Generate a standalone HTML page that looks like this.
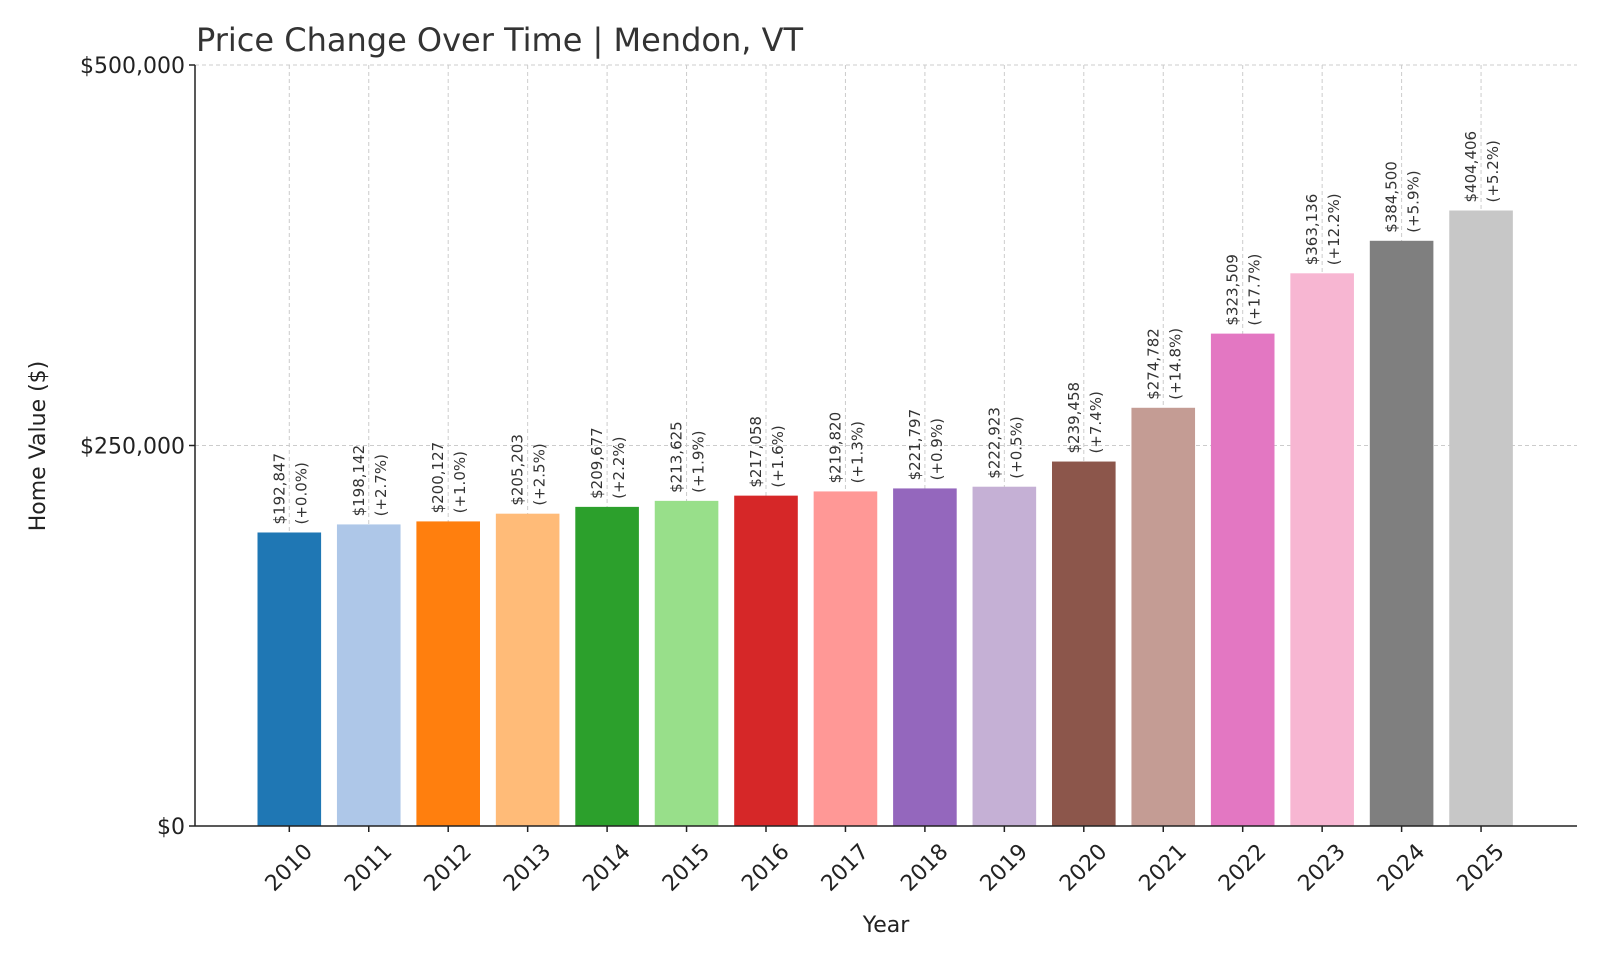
<!DOCTYPE html>
<html><head><meta charset="utf-8"><style>
body{margin:0;background:#fff;}
svg{display:block;font-family:"DejaVu Sans","Liberation Sans",sans-serif;}
</style></head><body>
<svg id="chart" width="1600" height="960" viewBox="0 0 1600 960">
<rect width="1600" height="960" fill="#fff"/>
<text x="196" y="51" font-size="32" fill="#333">Price Change Over Time | Mendon, VT</text>
<g id="grid"></g><g id="bars"></g><g id="labels"></g><g id="axes"></g>
<text x="886" y="932" font-size="22" text-anchor="middle" fill="#222">Year</text>
<text transform="translate(45,446) rotate(-90)" font-size="22" text-anchor="middle" fill="#222">Home Value ($)</text>
</svg>
<script>
const years=["2010","2011","2012","2013","2014","2015","2016","2017","2018","2019","2020","2021","2022","2023","2024","2025"];
const values=[192847,198142,200127,205203,209677,213625,217058,219820,221797,222923,239458,274782,323509,363136,384500,404406];
const yTicks=[0,250000,500000];
const yTickLabels=["$0","$250,000","$500,000"];
const colors=["#1f77b4","#aec7e8","#ff7f0e","#ffbb78","#2ca02c","#98df8a","#d62728","#ff9896","#9467bd","#c5b0d5","#8c564b","#c49c94","#e377c2","#f7b6d2","#7f7f7f","#c7c7c7"];
const NS="http://www.w3.org/2000/svg";
const L=195,R=1577,T=65,B=826,YMAX=500000;
const xs=i=>289.3+i*79.45;
const ys=v=>B-(v/YMAX)*(B-T);
const bw=63.6;
function mk(tag,attrs,parent,txt){const e=document.createElementNS(NS,tag);for(const k in attrs)e.setAttribute(k,attrs[k]);if(txt!==undefined)e.textContent=txt;parent.appendChild(e);return e;}
const grid=document.getElementById('grid'),bars=document.getElementById('bars'),labels=document.getElementById('labels'),axes=document.getElementById('axes');
yTicks.forEach((t,i)=>{
  const g=mk('line',{x1:L,x2:R,y1:ys(t),y2:ys(t),stroke:'#ccc','stroke-width':1,'stroke-dasharray':'4,3'},grid);
  
  
  mk('line',{x1:L-6,x2:L,y1:ys(t),y2:ys(t),stroke:'#222','stroke-width':1.5},axes);
  const tl=mk('text',{x:L-10,y:ys(t)+8,'font-size':22,'text-anchor':'end',fill:'#222'},axes,yTickLabels[i]);
  
  
});
years.forEach((y,i)=>{
  const x=xs(i);
  const g=mk('line',{x1:x,x2:x,y1:T,y2:B,stroke:'#ccc','stroke-width':1,'stroke-dasharray':'4,3'},grid);
  
  
  const v=values[i];
  const b=mk('rect',{x:x-bw/2,y:ys(v),width:bw,height:B-ys(v),fill:colors[i]},bars);
  
  
  const pct=i===0?0:(v/values[i-1]-1)*100;
  const top=ys(v)-8;
  const t1=mk('text',{transform:`translate(${x-5},${top}) rotate(-90)`,'font-size':15,fill:'#333'},labels,'$'+v.toLocaleString('en-US'));
  
  
  const t2=mk('text',{transform:`translate(${x+17},${top}) rotate(-90)`,'font-size':15,fill:'#333'},labels,'(+'+pct.toFixed(1)+'%)');
  
  
  mk('line',{x1:x,x2:x,y1:B,y2:B+6,stroke:'#222','stroke-width':1.5},axes);
  const xl=mk('text',{transform:`translate(${x},${868}) rotate(-45)`,'font-size':22,'text-anchor':'middle','dominant-baseline':'central',fill:'#222'},axes,y);
  
  
});
mk('line',{x1:L,x2:L,y1:T,y2:B,stroke:'#222','stroke-width':1.5},axes);
mk('line',{x1:L,x2:R,y1:B,y2:B,stroke:'#222','stroke-width':1.5},axes);
</script>
</body></html>
